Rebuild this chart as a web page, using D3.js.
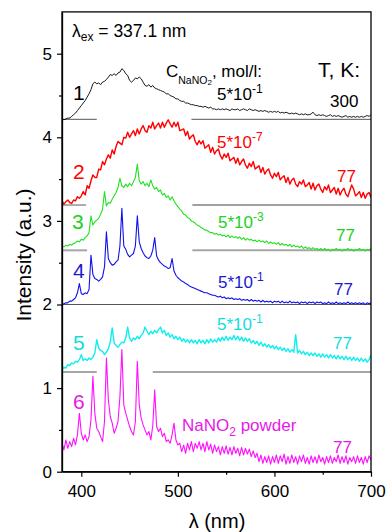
<!DOCTYPE html>
<html><head><meta charset="utf-8">
<script src="https://cdn.jsdelivr.net/npm/d3@7/dist/d3.min.js"></script>
<style>
body{margin:0;background:#fff}
svg{display:block}
text{font-family:"Liberation Sans",Arial,Helvetica,sans-serif}
</style>
</head><body>
<svg id="chart" width="387" height="532"></svg>
<script>
// wavelength grid: 380..700 nm, 2 nm step
const lambdaStart = 380, lambdaStep = 2;

// 1: black, 300 K, 5*10^-1
const spec1 = [
4.22,4.21,4.22,4.23,4.23,4.25,4.27,4.29,4.32,4.35,
4.38,4.41,4.44,4.48,4.52,4.57,4.64,4.66,4.64,4.65,
4.63,4.66,4.67,4.69,4.72,4.75,4.74,4.76,4.74,4.77,
4.78,4.82,4.80,4.76,4.74,4.68,4.66,4.68,4.71,4.70,
4.72,4.70,4.66,4.62,4.61,4.63,4.60,4.62,4.59,4.58,
4.57,4.56,4.55,4.54,4.52,4.52,4.50,4.49,4.48,4.46,
4.46,4.44,4.43,4.43,4.41,4.41,4.40,4.39,4.39,4.38,
4.38,4.37,4.37,4.36,4.37,4.36,4.35,4.36,4.34,4.34,
4.33,4.34,4.33,4.34,4.33,4.34,4.33,4.32,4.34,4.33,
4.33,4.34,4.32,4.33,4.34,4.33,4.32,4.34,4.33,4.32,
4.33,4.32,4.31,4.32,4.31,4.32,4.31,4.30,4.31,4.30,
4.31,4.30,4.31,4.29,4.30,4.29,4.30,4.29,4.28,4.29,
4.28,4.29,4.28,4.27,4.28,4.27,4.28,4.27,4.27,4.28,
4.30,4.27,4.26,4.27,4.26,4.27,4.26,4.25,4.26,4.27,
4.25,4.26,4.25,4.26,4.25,4.24,4.25,4.26,4.24,4.25,
4.24,4.25,4.24,4.25,4.24,4.25,4.24,4.25,4.26,4.25,
4.27];

// 2: red, 77 K, 5*10^-7
const spec2 = [
3.24,3.20,3.23,3.25,3.22,3.21,3.25,3.24,3.29,3.27,
3.30,3.35,3.31,3.42,3.39,3.48,3.55,3.52,3.52,3.62,
3.61,3.71,3.67,3.74,3.79,3.75,3.85,3.80,3.89,3.95,
3.93,3.91,4.00,3.99,4.06,4.00,4.04,4.08,4.02,4.10,
4.04,4.10,4.14,4.08,4.06,4.14,4.11,4.18,4.10,4.14,
4.17,4.11,4.18,4.12,4.17,4.21,4.16,4.12,4.18,4.13,
4.18,4.08,4.09,4.10,4.02,4.07,3.98,4.01,4.03,3.95,
3.91,3.96,3.92,3.96,3.87,3.89,3.91,3.82,3.88,3.80,
3.84,3.86,3.78,3.74,3.80,3.76,3.81,3.72,3.74,3.76,
3.69,3.75,3.67,3.71,3.74,3.67,3.63,3.69,3.65,3.71,
3.62,3.64,3.66,3.58,3.64,3.56,3.60,3.62,3.55,3.51,
3.57,3.53,3.58,3.49,3.52,3.54,3.46,3.52,3.44,3.49,
3.51,3.44,3.41,3.47,3.44,3.49,3.41,3.43,3.46,3.38,
3.45,3.37,3.42,3.44,3.38,3.34,3.41,3.37,3.43,3.34,
3.37,3.40,3.32,3.39,3.31,3.36,3.39,3.32,3.29,3.36,
3.43,3.38,3.30,3.32,3.35,3.28,3.34,3.27,3.32,3.34,
3.28];

// 3: green, 77 K, 5*10^-3
const spec3 = [
2.70,2.69,2.71,2.70,2.72,2.71,2.73,2.74,2.76,2.75,
2.78,2.77,2.80,2.82,2.86,3.06,2.95,2.99,3.01,3.03,
3.08,3.14,3.35,3.18,3.22,3.21,3.26,3.30,3.34,3.40,
3.51,3.42,3.40,3.44,3.41,3.45,3.42,3.47,3.52,3.68,
3.48,3.44,3.47,3.42,3.45,3.41,3.49,3.42,3.38,3.40,
3.35,3.37,3.31,3.33,3.28,3.30,3.25,3.29,3.24,3.20,
3.17,3.14,3.12,3.08,3.07,3.04,3.03,3.00,2.99,2.97,
2.95,2.94,2.92,2.91,2.89,2.89,2.87,2.86,2.86,2.84,
2.85,2.83,2.84,2.82,2.83,2.81,2.83,2.80,2.82,2.80,
2.81,2.79,2.81,2.78,2.80,2.77,2.79,2.77,2.78,2.76,
2.77,2.75,2.77,2.75,2.76,2.74,2.76,2.73,2.75,2.73,
2.74,2.72,2.74,2.71,2.73,2.71,2.72,2.70,2.72,2.69,
2.71,2.69,2.70,2.68,2.70,2.67,2.69,2.67,2.68,2.66,
2.68,2.66,2.67,2.65,2.67,2.65,2.67,2.65,2.66,2.64,
2.66,2.65,2.67,2.65,2.66,2.64,2.66,2.65,2.67,2.65,
2.66,2.64,2.66,2.65,2.67,2.65,2.66,2.64,2.66,2.65,
2.67];

// 4: blue, 77 K, 5*10^-1
const spec4 = [
2.00,2.01,2.02,2.02,2.04,2.04,2.06,2.08,2.14,2.25,
2.13,2.12,2.14,2.13,2.18,2.59,2.36,2.31,2.30,2.28,
2.30,2.33,2.45,2.87,2.55,2.50,2.47,2.48,2.51,2.53,
2.70,3.15,2.70,2.66,2.60,2.57,2.59,2.61,2.70,3.06,
2.75,2.67,2.62,2.58,2.56,2.55,2.58,2.65,2.80,2.58,
2.53,2.50,2.48,2.46,2.45,2.43,2.44,2.55,2.40,2.35,
2.32,2.30,2.28,2.27,2.25,2.24,2.22,2.21,2.20,2.19,
2.18,2.17,2.16,2.15,2.14,2.14,2.13,2.12,2.11,2.11,
2.10,2.09,2.10,2.08,2.09,2.07,2.08,2.07,2.08,2.06,
2.07,2.06,2.07,2.05,2.06,2.05,2.06,2.04,2.06,2.04,
2.05,2.04,2.05,2.03,2.05,2.03,2.04,2.03,2.04,2.02,
2.04,2.03,2.04,2.02,2.04,2.02,2.03,2.02,2.04,2.02,
2.03,2.02,2.03,2.01,2.03,2.02,2.03,2.01,2.03,2.02,
2.03,2.01,2.03,2.02,2.03,2.01,2.02,2.01,2.03,2.01,
2.02,2.01,2.03,2.01,2.02,2.01,2.02,2.01,2.03,2.01,
2.02,2.01,2.02,2.01,2.02,2.01,2.02,2.00,2.02,2.01,
2.02];

// 5: cyan, 77 K, 5*10^-1
const spec5 = [
1.22,1.25,1.24,1.28,1.27,1.30,1.29,1.32,1.31,1.34,
1.40,1.33,1.35,1.33,1.36,1.34,1.37,1.42,1.58,1.48,
1.45,1.44,1.40,1.43,1.47,1.55,1.72,1.54,1.51,1.49,
1.52,1.55,1.54,1.60,1.73,1.60,1.56,1.60,1.58,1.62,
1.59,1.63,1.66,1.73,1.68,1.64,1.68,1.65,1.69,1.66,
1.70,1.73,1.66,1.69,1.63,1.66,1.61,1.64,1.59,1.62,
1.58,1.61,1.56,1.59,1.55,1.58,1.54,1.58,1.54,1.57,
1.53,1.58,1.54,1.57,1.53,1.58,1.54,1.59,1.55,1.58,
1.55,1.60,1.56,1.61,1.57,1.62,1.57,1.61,1.58,1.63,
1.58,1.62,1.57,1.61,1.56,1.60,1.56,1.59,1.54,1.57,
1.53,1.56,1.51,1.55,1.50,1.53,1.49,1.52,1.48,1.51,
1.47,1.50,1.46,1.49,1.45,1.48,1.44,1.47,1.43,1.46,
1.43,1.64,1.42,1.45,1.41,1.44,1.40,1.43,1.39,1.42,
1.39,1.42,1.38,1.41,1.37,1.41,1.37,1.40,1.36,1.40,
1.36,1.39,1.35,1.39,1.35,1.38,1.34,1.38,1.34,1.37,
1.33,1.37,1.33,1.36,1.32,1.36,1.32,1.35,1.31,1.34,
1.40];

// 6: magenta, NaNO2 powder, 77 K
const spec6 = [
0.34,0.26,0.38,0.28,0.36,0.30,0.40,0.32,0.44,0.70,
0.46,0.38,0.44,0.36,0.42,0.62,1.14,0.70,0.52,0.48,
0.42,0.36,0.60,1.36,0.86,0.66,0.58,0.46,0.52,0.60,
0.90,1.46,0.80,0.70,0.62,0.54,0.48,0.44,0.60,1.32,
0.80,0.64,0.56,0.50,0.44,0.48,0.38,0.55,0.98,0.54,
0.48,0.52,0.42,0.46,0.36,0.38,0.34,0.44,0.58,0.38,
0.32,0.34,0.24,0.32,0.22,0.34,0.26,0.36,0.24,0.34,
0.28,0.36,0.26,0.34,0.24,0.36,0.26,0.33,0.22,0.32,
0.24,0.30,0.20,0.30,0.22,0.31,0.21,0.29,0.20,0.30,
0.22,0.28,0.19,0.29,0.20,0.28,0.21,0.27,0.18,0.25,
0.17,0.22,0.12,0.20,0.10,0.18,0.11,0.19,0.09,0.18,
0.11,0.20,0.10,0.19,0.12,0.21,0.09,0.18,0.10,0.20,
0.11,0.18,0.09,0.19,0.12,0.20,0.10,0.17,0.09,0.19,
0.11,0.18,0.10,0.20,0.12,0.17,0.09,0.18,0.11,0.19,
0.10,0.17,0.12,0.20,0.10,0.18,0.11,0.19,0.09,0.17,
0.12,0.18,0.10,0.19,0.11,0.17,0.09,0.18,0.11,0.19,
0.14];

const seriesData = [spec1, spec2, spec3, spec4, spec5, spec6];
const seriesColors = ["#000000", "#ff0000", "#22e022", "#1010f0", "#10eeee", "#ff10ff"];
const seriesWidths = [0.9, 1.4, 1.1, 1.1, 1.4, 1.1];

// offset baselines: level and visible wavelength segments
const baseLevels = [4.215, 3.19, 2.648, 2.0, 1.193];
const baseSegments = [
  [[380, 416], [514, 700]],
  [[380, 405], [515, 700]],
  [[380, 406], [515, 700]],
  [[380, 700]],
  [[380, 416], [474, 700]]
];
const baseColors = ["#555555", "#808080", "#a6a6a6", "#555555", "#a6a6a6"];
const baseWidths = [1, 1.3, 2, 1, 2];

const xTicks = [400, 500, 600, 700];
const xMinor = [450, 550, 650];
const yTicks = [0, 1, 2, 3, 4, 5];
const yMinor = [0.5, 1.5, 2.5, 3.5, 4.5];

const svg = d3.select("#chart");
const x = d3.scaleLinear().domain([380, 700]).range([62, 371]);
const y = d3.scaleLinear().domain([0, 5.5]).range([471.7, 11.9]);

// baselines
baseLevels.forEach((lv, i) => {
  baseSegments[i].forEach(seg => {
    svg.append("line")
      .attr("x1", x(seg[0])).attr("x2", x(seg[1]))
      .attr("y1", y(lv)).attr("y2", y(lv))
      .attr("stroke", baseColors[i]).attr("stroke-width", baseWidths[i]);
  });
});

// curves
svg.append("clipPath").attr("id", "clip").append("rect")
  .attr("x", 62).attr("y", 11.9).attr("width", 309).attr("height", 459.8);
const line = d3.line()
  .x((d, i) => x(lambdaStart + lambdaStep * i))
  .y(d => y(d));
const gc = svg.append("g").attr("clip-path", "url(#clip)");
seriesData.forEach((s, i) => {
  gc.append("path").datum(s)
    .attr("d", line)
    .attr("fill", "none")
    .attr("stroke", seriesColors[i])
    .attr("stroke-width", seriesWidths[i])
    .attr("stroke-linejoin", "round");
});

// frame
svg.append("rect").attr("x", 62).attr("y", 11.9).attr("width", 309).attr("height", 459.8)
  .attr("fill", "none").attr("stroke", "#000").attr("stroke-width", 1.3);

// axes
const fmt = d3.format("d");
const gx = svg.append("g").attr("transform", `translate(0,${y(0)})`)
  .call(d3.axisBottom(x).tickValues(xTicks).tickFormat(fmt).tickSize(5).tickSizeOuter(0).tickPadding(8));
const gxm = svg.append("g").attr("transform", `translate(0,${y(0)})`)
  .call(d3.axisBottom(x).tickValues(xMinor).tickSize(3).tickFormat(""));
const gy = svg.append("g").attr("transform", `translate(${x(380)},0)`)
  .call(d3.axisLeft(y).tickValues(yTicks).tickFormat(fmt).tickSize(5).tickSizeOuter(0).tickPadding(5));
const gym = svg.append("g").attr("transform", `translate(${x(380)},0)`)
  .call(d3.axisLeft(y).tickValues(yMinor).tickSize(3).tickFormat(""));
[gxm, gym].forEach(g => g.select(".domain").remove());
[gx, gxm, gy, gym].forEach(g => {
  g.selectAll("line").attr("stroke", "#000").attr("stroke-width", 1.2);
  g.select(".domain").attr("stroke", "#000").attr("stroke-width", 1.3);
  g.selectAll("text").attr("font-size", 17).attr("fill", "#000")
    .attr("font-family", '"Liberation Sans",Arial,sans-serif');
});

// axis titles
svg.append("text").attr("x", 217).attr("y", 528).attr("text-anchor", "middle")
  .attr("font-size", 20).text("λ (nm)");
svg.append("text").attr("transform", "translate(31,255) rotate(-90)")
  .attr("text-anchor", "middle").attr("font-size", 21).text("Intensity (a.u.)");

// text helper: parts = [text, size, dy]
function label(x0, y0, color, parts) {
  const t = svg.append("text").attr("x", x0).attr("y", y0).attr("fill", color);
  parts.forEach(p => {
    t.append("tspan").attr("font-size", p[1]).attr("dy", p[2] || 0).text(p[0]);
  });
  return t;
}

label(72, 37, "#000", [["λ", 17.5], ["ex", 12, 4], [" = 337.1 nm", 17.5, -4]]);
label(166, 77, "#000", [["C", 17], ["NaNO", 10.5, 7], ["2", 8, 1], [", mol/l:", 17, -8]]);
label(318, 77, "#000", [["T, K:", 21]]);
label(330, 107, "#000", [["300", 17]]);

const cBlack = "#000", cRed = "#ff0000", cGreen = "#22d022", cBlue = "#1a1ad0", cCyan = "#10dede", cMag = "#e818e8";
label(73, 100, cBlack, [["1", 21]]);
label(217, 100, cBlack, [["5*10", 17], ["-1", 12, -7]]);

label(73, 179, cRed, [["2", 21]]);
label(217, 148, cRed, [["5*10", 17], ["-7", 12, -7]]);
label(337, 182, cRed, [["77", 17]]);

label(72, 229, cGreen, [["3", 21]]);
label(218, 228, cGreen, [["5*10", 17], ["-3", 12, -7]]);
label(336, 241, cGreen, [["77", 17]]);

label(73, 278, cBlue, [["4", 21]]);
label(218, 288, cBlue, [["5*10", 17], ["-1", 12, -7]]);
label(334, 295, cBlue, [["77", 17]]);

label(73, 350, cCyan, [["5", 21]]);
label(217, 330, cCyan, [["5*10", 17], ["-1", 12, -7]]);
label(333, 349, cCyan, [["77", 17]]);

label(73, 409, cMag, [["6", 21]]);
label(182, 431, cMag, [["NaNO", 17], ["2", 12, 5], [" powder", 17, -5]]);
label(333, 453, cMag, [["77", 17]]);
</script>
</body></html>
